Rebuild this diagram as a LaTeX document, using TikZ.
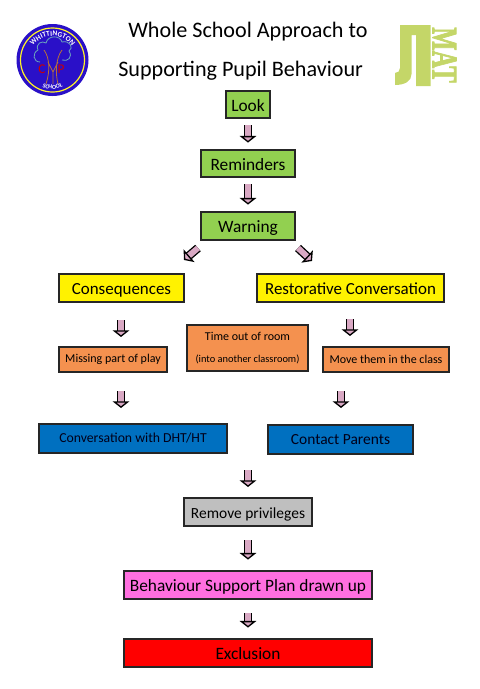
\documentclass[tikz,border=0pt]{standalone}
\usepackage{fontspec}
\setmainfont{Carlito}
\newfontfamily\matfont[BoldFeatures={FakeBold=2.5}]{Liberation Serif}
\usetikzlibrary{arrows.meta,decorations.text,calc}
\definecolor{bgreen}{HTML}{92D050}
\definecolor{borange}{HTML}{F4914F}
\definecolor{bblue}{HTML}{0070C0}
\definecolor{bgrey}{HTML}{BFBFBF}
\definecolor{bmag}{HTML}{FF6FE0}
\definecolor{apink}{HTML}{D9A9C4}
\definecolor{logog}{HTML}{C4D668}
\definecolor{sblue}{HTML}{2A10C8}
\definecolor{trunkc}{HTML}{B8703A}
\tikzset{
  x=0.75pt,y=-0.75pt,
  boxs/.style={draw=black!85,line width=1.1pt,inner sep=0pt,align=center,text=black},
  greenbox/.style={boxs,fill=bgreen,font=\fontsize{13}{15}\selectfont},
  yellowbox/.style={boxs,fill=yellow,font=\fontsize{12.7}{15}\selectfont},
  orangebox/.style={boxs,fill=borange,font=\fontsize{9}{11}\selectfont},
  bluebox/.style={boxs,fill=bblue,text=black!90!blue},
  greybox/.style={boxs,fill=bgrey,font=\fontsize{11.6}{14}\selectfont},
  magbox/.style={boxs,fill=bmag,font=\fontsize{13}{15}\selectfont},
  redbox/.style={boxs,fill=red,font=\fontsize{13}{15}\selectfont},
  blockarrow/.style={draw=black,line width=1pt,double=apink,double distance=4.4pt,
    -{Triangle[open,fill=apink,length=5pt,width=12.5pt,line width=1pt]}},
  titletext/.style={font=\fontsize{16.6}{20}\selectfont,inner sep=0pt,anchor=west},
  anchorpt/.style={inner sep=0pt,outer sep=0pt}
}
\newcommand{\pbox}[7]{\node[#1,minimum width=#4*0.75pt-#2*0.75pt,minimum height=#5*0.75pt-#3*0.75pt] (#6) at ({(#2+#4)/2},{(#3+#5)/2}) {#7};}
\newcommand{\dn}[1]{\raisebox{-1pt}[8pt][0pt]{#1}}
\begin{document}
\begin{tikzpicture}
\useasboundingbox[fill=white] (0,0) rectangle (479,689);
% school logo
\fill[sblue] (52.5,60) circle (36);
\draw[yellow!85!white,line width=0.9pt] (52.5,60) circle (32);
\draw[cyan!45!gray,line width=0.6pt]
 (40,62) .. controls (33,62) and (32,53) .. (38,50)
 .. controls (35,44) and (42,40) .. (46,43)
 .. controls (48,35) and (60,35) .. (62,42)
 .. controls (70,40) and (74,48) .. (69,51)
 .. controls (73,57) and (68,62) .. (62,60);
\draw[trunkc,line width=0.6pt]
 (44,50) .. controls (50,58) and (50,72) .. (46,84)
 (62,50) .. controls (56,58) and (55,72) .. (58,84)
 (48,62) -- (53,72) -- (58,62) (53,72) -- (53,84);
\node[anchorpt,text=red!80!black,font=\fontsize{10}{12}\selectfont] (lc) at (42,69) {C};
\node[anchorpt,text=red!80!black,font=\fontsize{10}{12}\selectfont] (lp) at (61,69) {P};
\path[postaction={decorate,decoration={text along path,text align=center,
  text={|\fontsize{5.5}{6}\bfseries\selectfont\color{white}|WHITTINGTON}}}]
  (28.5,60) arc[start angle=180,end angle=360,radius=24];
\path[postaction={decorate,decoration={text along path,text align=center,
  text={|\fontsize{4.6}{6}\bfseries\selectfont\color{white}|SCHOOL}}}]
  ($(52.5,60)+(150:29)$) arc[start angle=150,end angle=30,radius=29];
% MAT logo
\fill[logog] (400,25) -- (430.5,25) -- (430.5,86) -- (416,86) -- (416,35) -- (411.5,35)
  -- (411.5,74) .. controls (411.5,81) and (405,85) .. (395,85) -- (395,73)
  .. controls (398,73) and (400,71) .. (400,68) -- cycle;
\node[anchorpt,rotate=-90,xscale=0.68,text=logog,font=\matfont\fontsize{27}{30}\bfseries\selectfont] (mat) at (444.5,55) {MAT};
% title
\node[titletext] (t1) at (128,32) {Whole School Approach to};
\node[titletext] (t2) at (118,71) {Supporting Pupil Behaviour};
% boxes
\pbox{greenbox}{226}{91}{270}{118}{look}{\dn{Look}}
\pbox{greenbox}{201}{150}{295}{177}{remind}{\dn{Reminders}}
\pbox{greenbox}{201}{212}{295}{240}{warn}{\dn{Warning}}
\pbox{yellowbox}{59}{274}{184}{302}{cons}{\dn{Consequences}}
\pbox{yellowbox}{257}{274}{444}{302}{rest}{\dn{Restorative Conversation}}
\pbox{orangebox}{59}{347}{167}{372}{miss}{Missing part of play}
\pbox{orangebox}{187}{325}{308}{371}{time}{Time out of room\\[5pt]{\fontsize{7.8}{10}\selectfont (into another classroom)}}
\pbox{orangebox}{323}{347}{449}{372}{move}{Move them in the class}
\pbox{bluebox,font=\fontsize{10.3}{13}\selectfont}{39}{424}{227}{453}{conv}{\raisebox{0.3pt}[7pt][0pt]{Conversation with DHT/HT}}
\pbox{bluebox,font=\fontsize{11.6}{14}\selectfont}{268}{425}{413}{454}{parents}{\raisebox{0pt}[7.4pt][0pt]{Contact Parents}}
\pbox{greybox}{184}{498}{312}{526}{priv}{\dn{Remove privileges}}
\pbox{magbox}{124}{571}{372}{599}{plan}{\dn{Behaviour Support Plan drawn up}}
\pbox{redbox}{124}{639}{372}{667}{excl}{\dn{Exclusion}}
% free arrow ends
\coordinate (a1) at (121,320); \coordinate (a2) at (121,337);
\coordinate (b1) at (350,319); \coordinate (b2) at (350,336);
\coordinate (c1) at (121,391); \coordinate (c2) at (121,408);
\coordinate (d1) at (341,391); \coordinate (d2) at (341,408);
\coordinate (e1) at (248,470); \coordinate (e2) at (248,487);
\coordinate (w1) at (198,248); \coordinate (w2) at (184,260);
\coordinate (w3) at (298,248); \coordinate (w4) at (312,261);
\draw[blockarrow,shorten <=5pt,shorten >=5pt] (look) -- (remind);
\draw[blockarrow,shorten <=5pt,shorten >=5pt] (remind) -- (warn);
\draw[blockarrow] (w1) -- (w2);
\draw[blockarrow] (w3) -- (w4);
\draw[blockarrow] (a1) -- (a2);
\draw[blockarrow] (b1) -- (b2);
\draw[blockarrow] (c1) -- (c2);
\draw[blockarrow] (d1) -- (d2);
\draw[blockarrow] (e1) -- (e2);
\draw[blockarrow,shorten <=10pt,shorten >=8pt] (priv) -- (plan);
\draw[blockarrow,shorten <=10pt,shorten >=8pt] (plan) -- (excl);
\end{tikzpicture}
\end{document}
